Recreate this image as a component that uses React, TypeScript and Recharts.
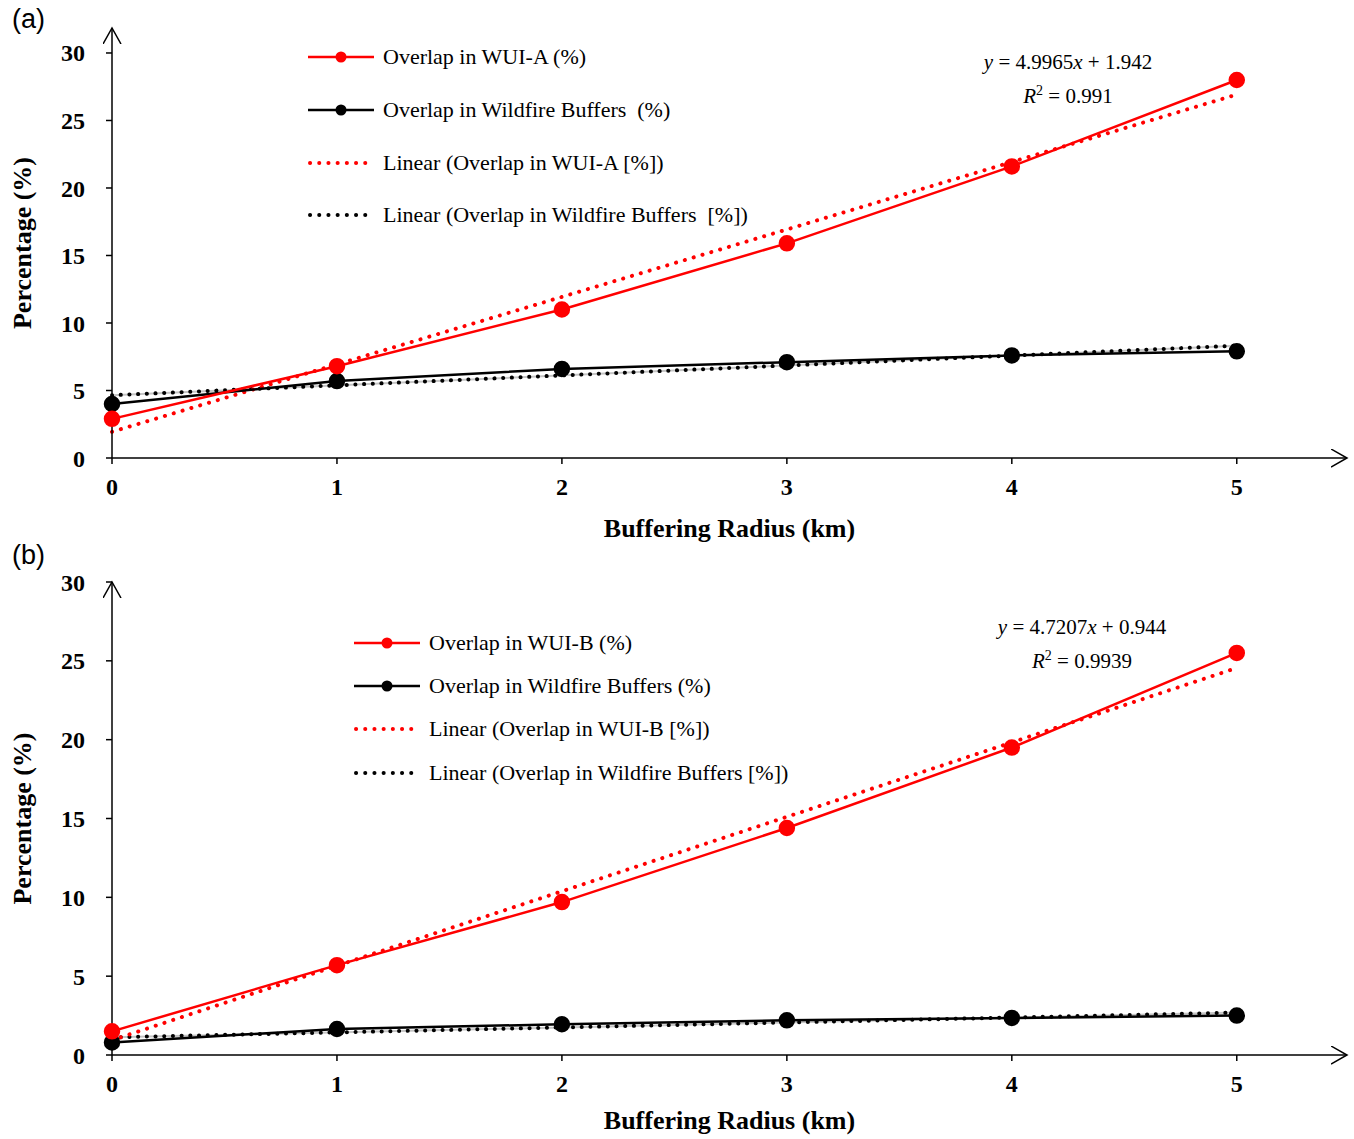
import { LineChart, Line, XAxis, YAxis, Legend } from "recharts";

if (typeof document !== "undefined") document.body.style.margin = "0";

// buffering radius (km)
const radius = [0, 1, 2, 3, 4, 5];
const xTicks = [0, 1, 2, 3, 4, 5];
const yTicks = [0, 5, 10, 15, 20, 25, 30];

// panel (a)
const wuiA = [2.9, 6.8, 11.0, 15.9, 21.6, 28.0];
const buffersA = [4.0, 5.7, 6.6, 7.1, 7.6, 7.9];
const wuiAFit = [1.94, 26.92]; // trendline ends (x = 0, x = 5)
const buffersAFit = [4.65, 8.32];

// panel (b)
const wuiB = [1.5, 5.7, 9.7, 14.4, 19.5, 25.5];
const buffersB = [0.8, 1.65, 1.95, 2.2, 2.35, 2.5];
const wuiBFit = [0.94, 24.55];
const buffersBFit = [1.12, 2.69];

const SERIF = "'Liberation Serif', 'Times New Roman', serif";
const RED = "#ff0000";
const BLACK = "#000000";

function buildRows(wui: number[], buf: number[], wuiFit: number[], bufFit: number[]) {
  const last = radius.length - 1;
  return radius.map((x, i) => ({
    x,
    wui: wui[i],
    buf: buf[i],
    wuiFit: i === 0 ? wuiFit[0] : i === last ? wuiFit[1] : null,
    bufFit: i === 0 ? bufFit[0] : i === last ? bufFit[1] : null,
  }));
}

function legendItems(wuiName: string, spaced: boolean) {
  return [
    { label: `Overlap in ${wuiName} (%)`, color: RED, dotted: false },
    { label: spaced ? "Overlap in Wildfire Buffers\u00a0 (%)" : "Overlap in Wildfire Buffers (%)", color: BLACK, dotted: false },
    { label: `Linear (Overlap in ${wuiName} [%])`, color: RED, dotted: true },
    { label: spaced ? "Linear (Overlap in Wildfire Buffers\u00a0 [%])" : "Linear (Overlap in Wildfire Buffers [%])", color: BLACK, dotted: true },
  ];
}

function LegendBox({ items, rowH }: { items: any[]; rowH: number }) {
  return (
    <div style={{ fontFamily: SERIF, fontSize: 22, color: "#000", textAlign: "left" }}>
      {items.map((it) => (
        <div key={it.label} style={{ display: "flex", alignItems: "center", height: rowH }}>
          <svg width={68} height={14}>
            {it.dotted ? (
              <line x1={2} y1={7} x2={66} y2={7} stroke={it.color} strokeWidth={4}
                strokeDasharray="0.1 9.1" strokeLinecap="round" />
            ) : (
              <>
                <line x1={0} y1={7} x2={66} y2={7} stroke={it.color} strokeWidth={2.5} />
                <circle cx={33} cy={7} r={5.5} fill={it.color} />
              </>
            )}
          </svg>
          <span style={{ marginLeft: 7, whiteSpace: "pre" }}>{it.label}</span>
        </div>
      ))}
    </div>
  );
}

const tickStyle = { fontFamily: SERIF, fontWeight: 700, fontSize: 24, fill: "#000" };
const titleStyle = { fontFamily: SERIF, fontWeight: 700, fontSize: 26, fill: "#000" };

function Panel(props: {
  id: string;
  tag: string;
  height: number;
  top: number;
  bottom: number;
  yMax: number;
  rows: any[];
  legend: any[];
  legendLeft: number;
  legendTop: number;
  rowH: number;
  eq: string[];
  eqX: number;
  eqY: number;
  tagTop: number;
  xLabelOffset: number;
}) {
  const arrow = `arrow-${props.id}`;
  return (
    <div style={{ position: "relative", width: 1354, height: props.height }}>
      <LineChart
        width={1354}
        height={props.height}
        data={props.rows}
        margin={{ top: props.top, right: 7, bottom: 0, left: 0 }}
        style={{ position: "absolute", left: 0, top: 0 }}
      >
        <defs>
          <marker id={arrow} markerUnits="userSpaceOnUse" markerWidth={20} markerHeight={20}
            refX={16} refY={9} orient="auto-start-reverse">
            <path d="M0,0 L16,9 L0,18" fill="none" stroke="#000" strokeWidth={1.5} />
          </marker>
        </defs>
        <XAxis
          dataKey="x"
          type="number"
          domain={[0, 5.49]}
          ticks={xTicks}
          height={props.bottom}
          tickSize={6}
          tickMargin={14}
          tick={tickStyle}
          axisLine={{ stroke: "#000", strokeWidth: 1.5, markerEnd: `url(#${arrow})` }}
          tickLine={{ stroke: "#000", strokeWidth: 1.5 }}
          label={{ value: "Buffering Radius (km)", position: "insideBottom", offset: props.xLabelOffset, style: titleStyle }}
        />
        <YAxis
          type="number"
          domain={[0, props.yMax]}
          ticks={yTicks}
          width={112}
          tickSize={6}
          tickMargin={21}
          tick={tickStyle}
          axisLine={{ stroke: "#000", strokeWidth: 1.5, markerStart: `url(#${arrow})` }}
          tickLine={{ stroke: "#000", strokeWidth: 1.5 }}
          label={{ value: "Percentage (%)", angle: -90, position: "insideLeft", offset: 22, style: { ...titleStyle, textAnchor: "middle" } }}
        />
        <Legend
          verticalAlign="middle"
          align="center"
          layout="vertical"
          wrapperStyle={{ left: props.legendLeft, top: props.legendTop, width: "auto" }}
          content={() => <LegendBox items={props.legend} rowH={props.rowH} />}
        />
        {/* faint grey halo under the black trendline, as in the source figure */}
        <Line dataKey="bufFit" stroke="#c4c4c4" strokeWidth={2} dot={false} activeDot={false}
          connectNulls isAnimationActive={false} legendType="none" />
        <Line dataKey="bufFit" stroke={BLACK} strokeWidth={4} strokeDasharray="0.1 8.6" strokeLinecap="round"
          dot={false} activeDot={false} connectNulls isAnimationActive={false} />
        <Line dataKey="wuiFit" stroke={RED} strokeWidth={4} strokeDasharray="0.1 9.1" strokeLinecap="round"
          dot={false} activeDot={false} connectNulls isAnimationActive={false} />
        <Line dataKey="buf" stroke={BLACK} strokeWidth={2.5} dot={{ r: 7, fill: BLACK, stroke: BLACK }}
          activeDot={false} isAnimationActive={false} />
        <Line dataKey="wui" stroke={RED} strokeWidth={2.5} dot={{ r: 7, fill: RED, stroke: RED }}
          activeDot={false} isAnimationActive={false} />
      </LineChart>
      <div style={{ position: "absolute", left: 12, top: props.tagTop, fontFamily: "'Liberation Sans', Arial, sans-serif", fontSize: 27 }}>
        {props.tag}
      </div>
      <div style={{ position: "absolute", left: props.eqX - 120, width: 240, top: props.eqY, textAlign: "center", fontFamily: SERIF, fontSize: 21, lineHeight: "33px" }}>
        <div>
          <i>y</i> = {props.eq[0]}<i>x</i> + {props.eq[1]}
        </div>
        <div style={{ position: "relative", top: 1 }}>
          <i>R</i>
          <span style={{ fontSize: 14, position: "relative", top: -8 }}>2</span> = {props.eq[2]}
        </div>
      </div>
    </div>
  );
}

export default function App() {
  return (
    <div style={{ width: 1354, height: 1139, background: "#fff" }}>
      <Panel
        id="a"
        tag="(a)"
        height={545}
        top={28}
        bottom={87}
        yMax={31.85}
        rows={buildRows(wuiA, buffersA, wuiAFit, buffersAFit)}
        legend={legendItems("WUI-A", true)}
        legendLeft={308}
        legendTop={31}
        rowH={52.7}
        eq={["4.9965", "1.942", "0.991"]}
        eqX={1068}
        eqY={46}
        tagTop={4}
        xLabelOffset={8}
      />
      <Panel
        id="b"
        tag="(b)"
        height={594}
        top={37}
        bottom={84}
        yMax={30}
        rows={buildRows(wuiB, buffersB, wuiBFit, buffersBFit)}
        legend={legendItems("WUI-B", false)}
        legendLeft={354}
        legendTop={76}
        rowH={43.3}
        eq={["4.7207", "0.944", "0.9939"]}
        eqX={1082}
        eqY={66}
        tagTop={-5}
        xLabelOffset={10}
      />
    </div>
  );
}
